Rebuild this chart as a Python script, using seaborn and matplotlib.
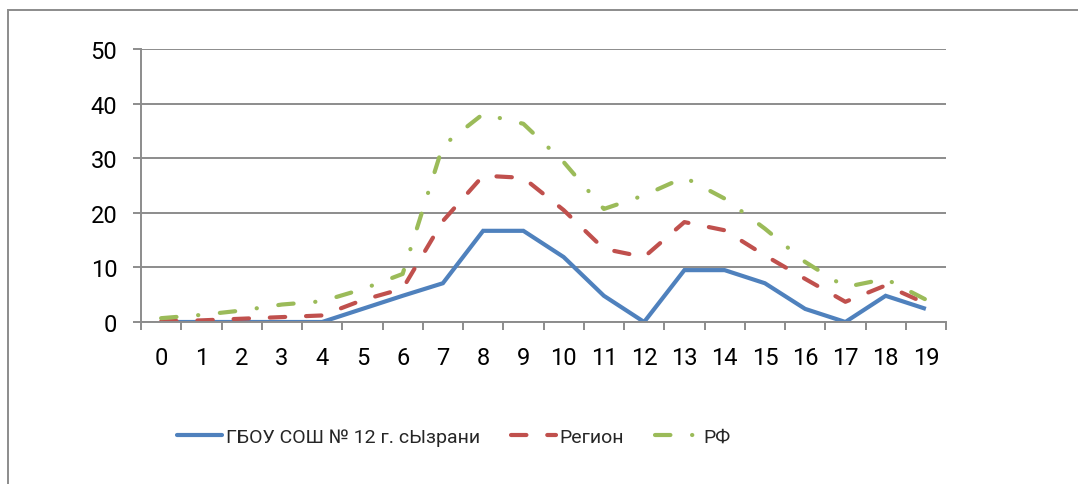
import matplotlib
matplotlib.use("Agg")
import matplotlib.pyplot as plt
import seaborn as sns
import pandas as pd
import numpy as np
from matplotlib.lines import Line2D
from matplotlib.patches import Rectangle

categories = list(range(20))
school = [0, 0, 0, 0, 0, 2.4, 4.8, 7.1, 16.7, 16.7, 11.9, 4.8, 0, 9.5, 9.5, 7.1, 2.4, 0, 4.8, 2.4]
region = [0.1, 0.3, 0.6, 0.9, 1.2, 4.0, 6.1, 18.5, 26.8, 26.4, 20.5, 13.4, 11.9, 18.3, 16.8, 12.2, 7.9, 3.7, 6.7, 3.4]
russia = [0.7, 1.3, 2.1, 3.2, 3.8, 6.0, 8.8, 32.3, 38.1, 36.3, 29.3, 20.7, 23.2, 26.5, 22.6, 17.1, 11.0, 6.4, 7.9, 4.1]
series_names = ["ГБОУ СОШ № 12 г. сЫзрани", "Регион", "РФ"]
y_ticks = [0, 10, 20, 30, 40, 50]

sns.set_theme(style="white")
plt.rcParams['font.family'] = ['Roboto', 'DejaVu Sans']

df = pd.DataFrame({
    "x": categories * 3,
    "y": school + region + russia,
    "series": [series_names[0]] * 20 + [series_names[1]] * 20 + [series_names[2]] * 20,
})

colors = ["#4F81BD", "#C0504D", "#9BBB59"]
fig = plt.figure(figsize=(10.78, 4.85), dpi=100)
ax = fig.add_axes([141 / 1078, 1 - 323 / 485, (946 - 141) / 1078, (323 - 50) / 485])

sns.lineplot(data=df, x="x", y="y", hue="series", palette=colors, ax=ax,
             linewidth=3.0, legend=False, sort=False)

dash_patterns = [None, (3.7, 5.0), (3.7, 5.2, 0.05, 5.2)]
for line, d in zip(ax.get_lines(), dash_patterns):
    line.set_solid_capstyle('butt')
    line.set_solid_joinstyle('miter')
    if d is not None:
        line.set_dashes(d)
        line.set_dash_capstyle('round')

ax.set_xlim(-0.5, 19.5)
ax.set_ylim(0, 50)
ax.set_yticks(y_ticks)
ax.set_xticks(categories)
ax.set_xticks(np.arange(-0.5, 20, 1), minor=True)
ax.set_xticklabels([str(c) for c in categories])
ax.set_xlabel("")
ax.set_ylabel("")

grid_col = "#8C8C8C"
ax.yaxis.grid(True, color=grid_col, linewidth=1.4)
ax.xaxis.grid(False)
ax.set_axisbelow(True)
for s in ["top", "right"]:
    ax.spines[s].set_visible(False)
for s in ["left", "bottom"]:
    ax.spines[s].set_color(grid_col)
    ax.spines[s].set_linewidth(1.4)

ax.tick_params(axis='y', which='major', left=True, length=6, width=1.4, color=grid_col,
               pad=11, labelsize=17, labelcolor="black")
ax.tick_params(axis='x', which='major', bottom=True, length=0, pad=17, labelsize=17, labelcolor="black")
ax.tick_params(axis='x', which='minor', bottom=True, length=6, width=1.4, color=grid_col)

handles = []
for c, d in zip(colors, dash_patterns):
    h = Line2D([0], [0], color=c, linewidth=3.0)
    if d is None:
        h.set_solid_capstyle('round')
    else:
        h.set_dashes(d)
        h.set_dash_capstyle('round')
    handles.append(h)

fig.legend(handles, series_names, loc="center left", bbox_to_anchor=(177 / 1078, 1 - 438 / 485),
           ncol=3, frameon=False, fontsize=14, handlelength=2.3, handletextpad=0.2,
           columnspacing=1.6, borderpad=0, borderaxespad=0)

# chart area border (only top and left edges fall inside the image)
fig.patches.append(Rectangle((8 / 1078, -0.1), 1.2, 1 - 11 / 485 + 0.1, transform=fig.transFigure,
                             fill=False, edgecolor="#8C8C8C", linewidth=1.4))

fig.savefig("out.png", dpi=100)
